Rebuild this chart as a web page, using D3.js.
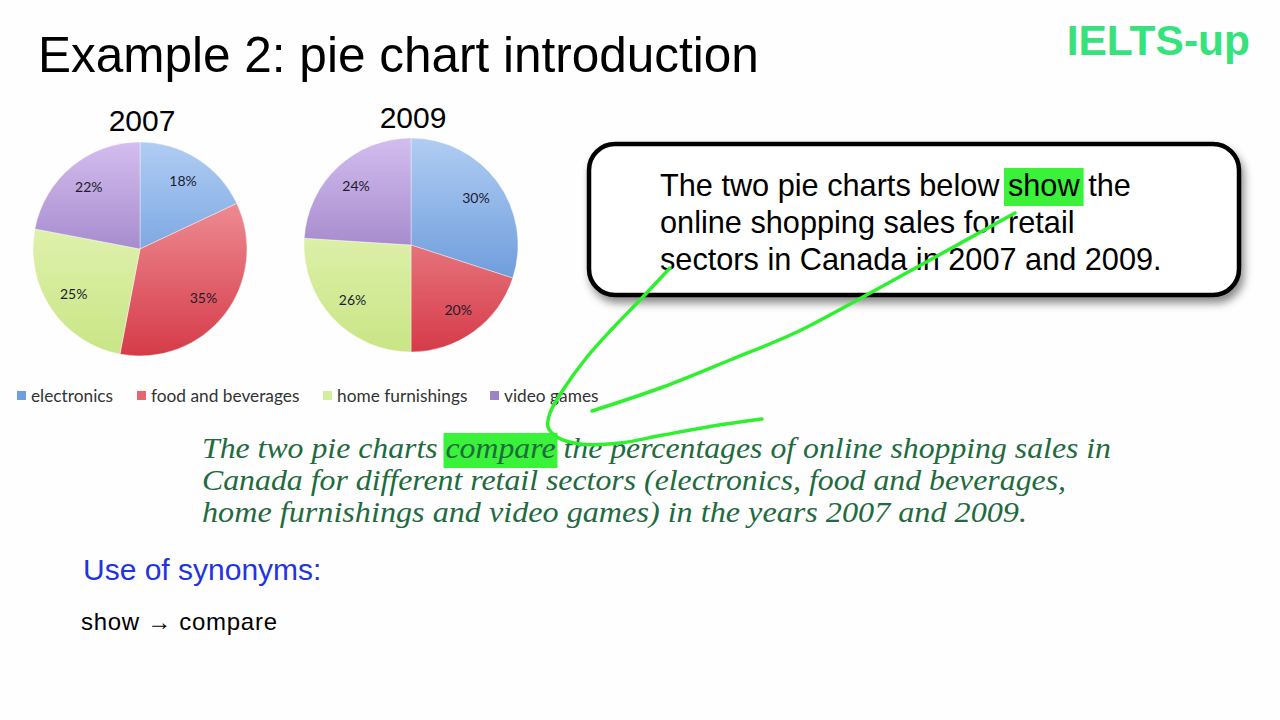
<!DOCTYPE html>
<html><head><meta charset="utf-8">
<script src="https://cdn.jsdelivr.net/npm/d3@7"></script>
<style>
html,body{margin:0;padding:0;background:#fff;}
svg{display:block;}
</style></head>
<body>
<svg id="chart" width="1280" height="720"></svg>
<script>
// ---- data ----
const sectors = ["electronics", "food and beverages", "home furnishings", "video games"];
const years = ["2007", "2009"];
const values2007 = [18, 35, 25, 22];
const values2009 = [30, 20, 26, 24];
const promptLines = ["The two pie charts below show the", "online shopping sales for retail", "sectors in Canada in 2007 and 2009."];
const paraphraseLines = ["The two pie charts compare the percentages of online shopping sales in",
  "Canada for different retail sectors (electronics, food and beverages,",
  "home furnishings and video games) in the years 2007 and 2009."];

const svg = d3.select("#chart");
const defs = svg.append("defs");
svg.append("rect").attr("width",1280).attr("height",720).attr("fill","#fefefe");

const colorTop = ["#b0cdf3", "#f7aab0", "#ecf9c6", "#d3bdee"];
const colorBot = ["#4d84d1", "#d53b48", "#c9e585", "#7c5cae"];
const colorLegend = ["#6f9fe0", "#e36670", "#d3ee9c", "#9e83c8"];

const pies = [
  {year: years[0], values: values2007, cx: 140, cy: 249, r: 107, ty: 131},
  {year: years[1], values: values2009, cx: 411, cy: 245, r: 107, ty: 128}
];

const pieGen = d3.pie().sort(null).value(d => d);
pies.forEach((p, pi) => {
  const g = svg.append("g").attr("transform", `translate(${p.cx},${p.cy})`);
  sectors.forEach((s, i) => {
    const grad = defs.append("linearGradient").attr("id", `g${pi}_${i}`)
      .attr("gradientUnits","userSpaceOnUse").attr("x1",0).attr("x2",0).attr("y1",-p.r).attr("y2",p.r);
    grad.append("stop").attr("offset","0%").attr("stop-color", colorTop[i]);
    grad.append("stop").attr("offset","100%").attr("stop-color", colorBot[i]);
  });
  const arc = d3.arc().innerRadius(0).outerRadius(p.r);
  const labelArc = d3.arc().innerRadius(p.r*0.75).outerRadius(p.r*0.75);
  const arcs = pieGen(p.values);
  g.selectAll("path").data(arcs).join("path")
    .attr("d", arc).attr("fill", (d,i) => `url(#g${pi}_${i})`)
    .attr("stroke","#ffffff").attr("stroke-width",0.4);
  g.selectAll("text").data(arcs).join("text")
    .attr("transform", d => `translate(${labelArc.centroid(d)})`)
    .attr("text-anchor","middle").attr("dy","0.35em")
    .attr("font-family","Lato, 'Open Sans', sans-serif").attr("font-size",14)
    .attr("fill","#1c1c2c")
    .text(d => d.data + "%");
  svg.append("text").attr("x", p.cx + 2).attr("y", p.ty).attr("text-anchor","middle")
    .attr("font-family","'Liberation Sans', Arial, sans-serif").attr("font-size",30)
    .attr("fill","#000").text(p.year);
});

// legend
const legendX = [17, 137, 323, 490];
const lg = svg.append("g");
sectors.forEach((s, i) => {
  lg.append("rect").attr("x", legendX[i]).attr("y", 391).attr("width", 9).attr("height", 9).attr("fill", colorLegend[i]);
  lg.append("text").attr("x", legendX[i] + 14).attr("y", 402)
    .attr("font-family","Lato, 'Open Sans', sans-serif").attr("font-size",17.3).attr("fill","#333").text(s);
});

// title + logo
svg.append("text").attr("x",38).attr("y",72).attr("font-family","'Liberation Sans', Arial, sans-serif")
  .attr("font-size",49.5).attr("fill","#000").text("Example 2: pie chart introduction");
svg.append("text").attr("x",1250).attr("y",55).attr("text-anchor","end").attr("font-family","'Liberation Sans', Arial, sans-serif")
  .attr("font-weight","bold").attr("font-size",42.5).attr("fill","#35e27c").text("IELTS-up");

// box with prompt
const sh = defs.append("filter").attr("id","shadow").attr("x","-10%").attr("y","-10%").attr("width","130%").attr("height","140%");
sh.append("feDropShadow").attr("dx",3).attr("dy",6).attr("stdDeviation",4).attr("flood-color","#000").attr("flood-opacity",0.45);
svg.append("rect").attr("x",589).attr("y",144).attr("width",650).attr("height",151).attr("rx",26).attr("ry",26)
  .attr("fill","#fff").attr("stroke","#000").attr("stroke-width",4.5).attr("filter","url(#shadow)");

const hlG = svg.append("g");
const pt = svg.append("text").attr("font-family","'Liberation Sans', Arial, sans-serif").attr("font-size",30.7).attr("fill","#000");
promptLines.forEach((l, i) => pt.append("tspan").attr("x",660).attr("y",196 + i*37).text(l));

// paraphrase
const hlG2 = svg.append("g");
const paraWidths = [909, 864, 825];
const parEls = paraphraseLines.map((l, i) => svg.append("text").attr("x",202).attr("y",458 + i*32)
  .attr("font-family","'Liberation Serif', 'DejaVu Serif', serif").attr("font-style","italic")
  .attr("font-size",29.5).attr("fill","#1f6b3f")
  .attr("textLength", paraWidths[i]).attr("lengthAdjust","spacingAndGlyphs").text(l));

function highlight(textNode, str, word, group, padX, y0, h) {
  const idx = str.indexOf(word);
  const a = textNode.getExtentOfChar(idx);
  const b = textNode.getExtentOfChar(idx + word.length - 1);
  group.append("rect").attr("x", a.x - padX).attr("y", y0)
    .attr("width", b.x + b.width - a.x + 2*padX).attr("height", h).attr("fill", "#3af23a");
}
// "show" highlight
{
  const tsp = pt.select("tspan").node();
  const idx = promptLines[0].indexOf("show");
  const a = tsp.getExtentOfChar(idx), b = tsp.getExtentOfChar(idx + 3);
  hlG.append("rect").attr("x", a.x - 4).attr("y", 168).attr("width", b.x + b.width - a.x + 8).attr("height", 38).attr("fill","#3af23a");
}
highlight(parEls[0].node(), paraphraseLines[0], "compare", hlG2, 2, 433, 35);

// hand-drawn green strokes
const strokeA = [[670,268],[640,300],[613,328],[587,357],[563,390],[550,413],[548,427],[557,437],[580,444],[620,443],[663,435],[713,426],[762,419]];
const strokeB = [[1015,213],[930,260],[863,297],[797,332],[730,360],[663,387],[592,411]];
const line = d3.line().curve(d3.curveCatmullRom.alpha(0.5));
[strokeA, strokeB].forEach(s => svg.append("path").attr("d", line(s)).attr("fill","none")
  .attr("stroke","#2ff02f").attr("stroke-width",3.5).attr("stroke-linecap","round"));

// synonyms
svg.append("text").attr("x",83).attr("y",580).attr("font-family","'Liberation Sans', Arial, sans-serif")
  .attr("font-size",30).attr("fill","#1f35e0").text("Use of synonyms:");
svg.append("text").attr("x",81).attr("y",630).attr("font-family","'Liberation Sans', Arial, sans-serif")
  .attr("font-size",24).attr("fill","#000")
  .attr("textLength",196).attr("lengthAdjust","spacing")
  .text("show \u2192 compare");
</script>
</body></html>
